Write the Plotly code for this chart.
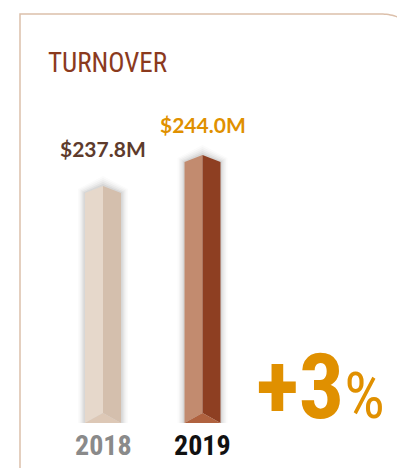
import plotly.graph_objects as go
import math

# ---- data ----
years = ["2018", "2019"]
turnover = [237.8, 244.0]          # $ millions
value_labels = ["$237.8M", "$244.0M"]
change_label = "+3"
change_unit = "%"
title_text = "TURNOVER"

# ---- styling ----
base = 190.4                        # visual baseline of the bars (axis units)
face_left = ["#e6d8cb", "#c28b6f"]
face_right = ["#d4bfad", "#8e3f22"]
face_bottom = ["#ddc8b6", "#b0623f"]
label_colors = ["#5e3b2c", "#e09000"]
year_colors = ["#8a8a8a", "#111111"]
label_shift = [23, 16]

W, H = 405, 468
px_x = 99.5        # pixels per category step
px_y = 5.0         # pixels per axis unit
hw = 18 / px_x     # half bar width
roof = 7 / px_y
foot = 10 / px_y

NARROW = "Roboto Condensed, Open Sans Condensed, Liberation Sans Narrow, DejaVu Sans Condensed"


def cond(s):
    return f"<span style='font-stretch:condensed'>{s}</span>"


fig = go.Figure()


def poly(xs, ys, color):
    fig.add_trace(go.Scatter(
        x=xs + [xs[0]], y=ys + [ys[0]], mode="lines", fill="toself",
        fillcolor=color, line=dict(width=0, color=color),
        hoverinfo="skip", showlegend=False))


for i, v in enumerate(turnover):
    # soft shadow
    for k, a in [(10, 0.02), (8, 0.03), (6, 0.04), (4, 0.05), (2, 0.07)]:
        dx = k / px_x
        dy = k / px_y
        poly([i - hw - dx * 0.7, i, i + hw + dx * 0.7, i + hw + dx * 0.7, i - hw - dx * 0.7],
             [v - roof + dy * 0.4, v + dy, v - roof + dy * 0.4, base, base],
             f"rgba(60,60,60,{a})")
    poly([i - hw, i - hw, i, i], [base, v - roof, v, base + foot], face_left[i])
    poly([i, i + hw, i + hw, i], [v, v - roof, base, base + foot], face_right[i])
    poly([i - hw, i, i + hw], [base, base + foot, base], face_bottom[i])

annotations = []
for i, v in enumerate(turnover):
    annotations.append(dict(
        x=i, y=v, xref="x", yref="y", text=f"<b>{value_labels[i]}</b>",
        showarrow=False, yanchor="bottom", yshift=label_shift[i],
        font=dict(family="Lato, sans-serif", size=21, color=label_colors[i])))
    annotations.append(dict(
        x=i, y=base, xref="x", yref="y", text=cond(f"<b>{years[i]}</b>"),
        showarrow=False, yanchor="top", yshift=-4,
        font=dict(family=NARROW, size=28, color=year_colors[i])))

annotations.append(dict(
    x=38 / W, y=1 - 55 / H, xref="paper", yref="paper", text=cond(title_text),
    showarrow=False, xanchor="left", yanchor="middle",
    font=dict(family=NARROW, size=27, color="#8b3a1e")))

annotations.append(dict(
    x=(246 - 95) / px_x, y=base, xref="x", yref="y",
    text=cond(f"<b>{change_label}</b>") + f"<span style='font-size:64px;font-stretch:condensed'>{change_unit}</span>",
    showarrow=False, xanchor="left", yanchor="bottom", yshift=-19,
    font=dict(family=NARROW, size=90, color="#e09000")))

# frame with rounded top-right corner (pixel geometry -> paper coords)
R = 48
cx, cy = 373, 6 + R
pts = [(12, 468), (12, 6), (cx, 6)]
for t in range(0, 41):
    ang = -math.pi / 2 + t * (math.pi / 2) / 40
    pts.append((cx + R * math.cos(ang), cy + R * math.sin(ang)))
path = "M " + " L ".join(f"{x / W:.5f},{1 - y / H:.5f}" for x, y in pts)

fig.update_layout(
    width=W, height=H,
    margin=dict(l=0, r=0, t=0, b=0),
    paper_bgcolor="white", plot_bgcolor="white",
    xaxis=dict(range=[-95 / px_x, (W - 95) / px_x], visible=False, fixedrange=True),
    yaxis=dict(range=[base - (H - 415) / px_y, base + 415 / px_y], visible=False, fixedrange=True),
    shapes=[dict(type="path", path=path, xref="paper", yref="paper",
                 line=dict(color="#dcc0ab", width=1.5), layer="below")],
    annotations=annotations,
)

fig.write_html("out.html")
